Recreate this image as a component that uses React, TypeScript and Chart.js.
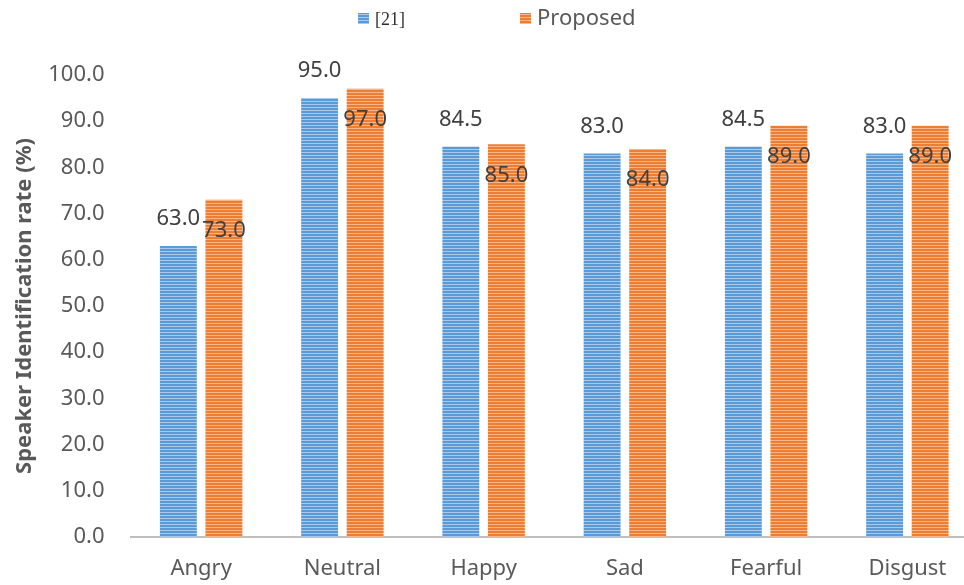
import React, { useEffect, useRef } from "react";
import { Chart, registerables } from "chart.js";

Chart.register(...registerables);

const categories = ["Angry", "Neutral", "Happy", "Sad", "Fearful", "Disgust"];
const ref21 = [63.0, 95.0, 84.5, 83.0, 84.5, 83.0];
const proposed = [73.0, 97.0, 85.0, 84.0, 89.0, 89.0];
const seriesNames = ["[21]", "Proposed"];

const FONT = "'Noto Sans', 'Open Sans', sans-serif";

function stripe(base: string, light: string): CanvasPattern | string {
  const c = document.createElement("canvas");
  c.width = 4;
  c.height = 3;
  const ctx = c.getContext("2d");
  if (!ctx) return base;
  ctx.fillStyle = base;
  ctx.fillRect(0, 0, 4, 3);
  ctx.fillStyle = light;
  ctx.fillRect(0, 2, 4, 1);
  const p = ctx.createPattern(c, "repeat");
  return p || base;
}

export default function App() {
  const ref = useRef<HTMLCanvasElement | null>(null);
  useEffect(() => {
    if (!ref.current) return;
    const blue = stripe("#5b9bd5", "#a8c9ec");
    const orange = stripe("#ed7d31", "#f6b68a");

    const labelPlugin = {
      id: "labels",
      afterDatasetsDraw(chart: any) {
        const ctx = chart.ctx;
        ctx.save();
        ctx.font = `22px ${FONT}`;
        ctx.fillStyle = "#404040";
        ctx.textAlign = "center";
        ctx.textBaseline = "middle";
        chart.data.datasets.forEach((ds: any, di: number) => {
          const meta = chart.getDatasetMeta(di);
          meta.data.forEach((el: any, i: number) => {
            const v = ds.data[i] as number;
            const y = di === 0 ? el.y - 27 : el.y + 31;
            ctx.fillText(v.toFixed(1), el.x, y);
          });
        });
        ctx.restore();
      },
    };

    const legendPlugin = {
      id: "customLegend",
      afterDraw(chart: any) {
        const ctx = chart.ctx;
        ctx.save();
        ctx.fillStyle = blue;
        ctx.fillRect(358, 13, 11, 11);
        ctx.fillStyle = orange;
        ctx.fillRect(520, 13, 11, 11);
        ctx.textBaseline = "middle";
        ctx.textAlign = "left";
        ctx.fillStyle = "#303030";
        ctx.font = "18px 'Liberation Serif', serif";
        ctx.fillText(seriesNames[0], 375, 20);
        ctx.fillStyle = "#595959";
        ctx.font = `22px ${FONT}`;
        ctx.fillText(seriesNames[1], 537, 19);
        ctx.restore();
      },
    };

    const chart = new Chart(ref.current, {
      type: "bar",
      data: {
        labels: categories,
        datasets: [
          { label: seriesNames[0], data: ref21, backgroundColor: blue as any, borderWidth: 0 },
          { label: seriesNames[1], data: proposed, backgroundColor: orange as any, borderWidth: 0 },
        ],
      },
      options: {
        responsive: false,
        animation: false,
        layout: { padding: { top: 75, left: 0, right: 0, bottom: 0 } },
        datasets: {
          bar: { categoryPercentage: 0.645, barPercentage: 0.81 },
        },
        plugins: {
          legend: { display: false },
          tooltip: { enabled: false },
        },
        scales: {
          x: {
            grid: { display: false, drawTicks: false },
            border: { display: true, color: "#bfbfbf", width: 2 },
            ticks: {
              color: "#595959",
              font: { family: FONT, size: 22 },
              padding: 19,
            },
            afterFit(scale: any) {
              scale.height = 48;
            },
          },
          y: {
            min: 0,
            max: 100,
            grid: { display: false, drawTicks: false },
            border: { display: false },
            ticks: {
              stepSize: 10,
              color: "#595959",
              font: { family: FONT, size: 22 },
              padding: 26,
              callback: (v: any) => Number(v).toFixed(1),
            },
            title: {
              display: true,
              text: "Speaker Identification rate (%)",
              color: "#595959",
              font: { family: FONT, size: 22, weight: "bold" },
              padding: { top: 12, bottom: 0 },
            },
            afterFit(scale: any) {
              scale.width = 130.5;
            },
          },
        },
      },
      plugins: [labelPlugin, legendPlugin],
    });
    return () => chart.destroy();
  }, []);

  return (
    <div
      style={{
        position: "fixed",
        left: 0,
        top: 0,
        width: 964,
        height: 585,
        overflow: "hidden",
        background: "#fff",
      }}
    >
      <canvas ref={ref} width={978} height={585} style={{ display: "block" }} />
    </div>
  );
}
